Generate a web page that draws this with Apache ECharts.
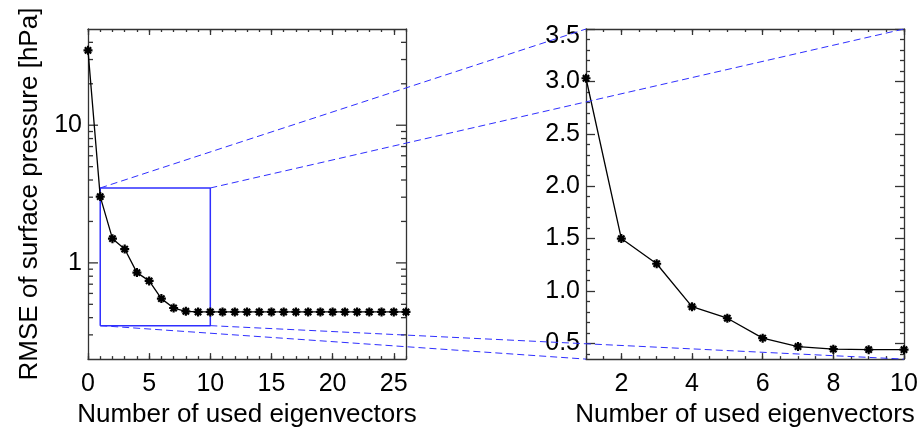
<!DOCTYPE html>
<html>
<head>
<meta charset="utf-8">
<script src="https://cdn.jsdelivr.net/npm/echarts@6/dist/echarts.min.js"></script>
<style>
  html, body { margin: 0; padding: 0; background: #fff; }
  #chart { width: 923px; height: 433px; }
</style>
</head>
<body>
<div id="chart"></div>
<script>
// Number of retained eigenvectors and the resulting surface-pressure RMSE [hPa]
const eigenCounts = [0, 1, 2, 3, 4, 5, 6, 7, 8, 9, 10, 11, 12, 13, 14, 15, 16, 17, 18, 19, 20, 21, 22, 23, 24, 25, 26];
const rmseValues  = [35.0, 3.03, 1.50, 1.26, 0.85, 0.74, 0.55, 0.47, 0.445, 0.44, 0.44, 0.44, 0.44, 0.44,
                     0.44, 0.44, 0.44, 0.44, 0.44, 0.44, 0.44, 0.44, 0.44, 0.44, 0.44, 0.44, 0.44];

// Axis ranges
const fullXRange = [0, 26];
const fullYRange = [0.2, 50];
const zoomXRange = [1, 10];
const zoomYRange = [0.35, 3.5];

// Tick values
const fullXTicks = [0, 5, 10, 15, 20, 25];
const fullYLabels = [1, 10];
const fullYMinor = [0.3, 0.4, 0.5, 0.6, 0.7, 0.8, 0.9, 2, 3, 4, 5, 6, 7, 8, 9, 20, 30, 40];
const zoomXTicks = [2, 4, 6, 8, 10];
const zoomYTicks = [0.5, 1.0, 1.5, 2.0, 2.5, 3.0, 3.5];
const zoomYMinor = [0.4, 0.6, 0.7, 0.8, 0.9, 1.1, 1.2, 1.3, 1.4, 1.6, 1.7, 1.8, 1.9, 2.1, 2.2, 2.3, 2.4,
                    2.6, 2.7, 2.8, 2.9, 3.1, 3.2, 3.3, 3.4];

const FONT = 'Liberation Sans, Arial, Helvetica, sans-serif';
const FRAME = '#333';
const BLUE = '#2f2fff';
const XTITLE = 'Number of used eigenvectors';
const YTITLE = 'RMSE of surface pressure [hPa]';
const STAR = 'path://M5,0L5,10M0,5L10,5M1.5,1.5L8.5,8.5M1.5,8.5L8.5,1.5';

const frameLine = { show: true, onZero: false, lineStyle: { color: FRAME, width: 1.3 } };
const noLine = { show: false };
const labelStyle = { color: '#000', fontFamily: FONT, fontSize: 25 };
const titleStyle = { color: '#000', fontFamily: FONT, fontSize: 26 };

function xAxisDef(grid, pos, range, ticks, len, opts) {
  return Object.assign({
    type: 'value', gridIndex: grid, position: pos, min: range[0], max: range[1],
    axisLine: noLine, splitLine: { show: false },
    axisTick: { show: true, inside: true, length: len, lineStyle: { color: FRAME, width: 1.3 },
                customValues: ticks || undefined },
    axisLabel: { show: false }
  }, opts || {});
}

const xAxes = [
  // left panel
  xAxisDef(0, 'bottom', fullXRange, fullXTicks, 6, {
    axisLine: frameLine,
    axisLabel: Object.assign({ show: true, margin: 13, customValues: fullXTicks }, labelStyle),
    name: XTITLE, nameLocation: 'middle', nameGap: 42, nameTextStyle: titleStyle
  }),
  xAxisDef(0, 'bottom', fullXRange, null, 3, { interval: 1 }),
  xAxisDef(0, 'top', fullXRange, fullXTicks, 6, { axisLine: frameLine }),
  xAxisDef(0, 'top', fullXRange, null, 3, { interval: 1 }),
  // right panel
  xAxisDef(1, 'bottom', zoomXRange, zoomXTicks, 6, {
    axisLine: frameLine,
    axisLabel: Object.assign({ show: true, margin: 13, customValues: zoomXTicks }, labelStyle),
    name: XTITLE, nameLocation: 'middle', nameGap: 42, nameTextStyle: titleStyle
  }),
  xAxisDef(1, 'bottom', zoomXRange, null, 3, { interval: 0.5 }),
  xAxisDef(1, 'top', zoomXRange, zoomXTicks, 6, { axisLine: frameLine }),
  xAxisDef(1, 'top', zoomXRange, null, 3, { interval: 0.5 })
];

const yAxes = [
  // left panel (logarithmic)
  {
    type: 'log', logBase: 10, gridIndex: 0, position: 'left', min: fullYRange[0], max: fullYRange[1],
    axisLine: frameLine, splitLine: { show: false }, axisTick: { show: false },
    axisLabel: Object.assign({
      margin: 6,
      formatter: v => (fullYLabels.indexOf(Math.round(v * 1000) / 1000) >= 0 ? String(Math.round(v)) : '')
    }, labelStyle),
    name: YTITLE, nameLocation: 'middle', nameRotate: 90, nameGap: 45, nameTextStyle: titleStyle
  },
  {
    type: 'log', logBase: 10, gridIndex: 0, position: 'right', min: fullYRange[0], max: fullYRange[1],
    axisLine: frameLine, splitLine: { show: false }, axisTick: { show: false }, axisLabel: { show: false }
  },
  // right panel (linear)
  xAxisDef(1, 'left', zoomYRange, zoomYTicks, 9, {
    axisLine: frameLine,
    axisLabel: Object.assign({
      show: true, margin: 6, customValues: zoomYTicks,
      formatter: v => (v === zoomYRange[1] ? '{top|' + v.toFixed(1) + '}' : v.toFixed(1)),
      rich: { top: { fontSize: 25, fontFamily: FONT, color: '#000', padding: [14, 0, 0, 0] } }
    }, labelStyle)
  }),
  xAxisDef(1, 'left', zoomYRange, zoomYMinor, 4),
  xAxisDef(1, 'right', zoomYRange, zoomYTicks, 9, { axisLine: frameLine }),
  xAxisDef(1, 'right', zoomYRange, zoomYMinor, 4)
];

// Ticks of the log axis, drawn on both sides of the left panel
function logTickSeries(values, len) {
  return {
    type: 'custom', xAxisIndex: 0, yAxisIndex: 0, silent: true, clip: false, z: 5,
    data: values.map(v => [fullXRange[0], v]),
    renderItem(params, api) {
      const v = api.value(1);
      const l = api.coord([fullXRange[0], v]);
      const r = api.coord([fullXRange[1], v]);
      const style = { stroke: FRAME, lineWidth: 1.3 };
      return {
        type: 'group',
        children: [
          { type: 'line', shape: { x1: l[0], y1: l[1], x2: l[0] + len, y2: l[1] }, style },
          { type: 'line', shape: { x1: r[0] - len, y1: r[1], x2: r[0], y2: r[1] }, style }
        ]
      };
    }
  };
}

const fullData = eigenCounts.map((n, i) => [n, rmseValues[i]]);
const zoomData = fullData.filter(d => d[0] >= zoomXRange[0] && d[0] <= zoomXRange[1]);
const zoomBox = [
  [zoomXRange[0], zoomYRange[0]], [zoomXRange[0], zoomYRange[1]],
  [zoomXRange[1], zoomYRange[1]], [zoomXRange[1], zoomYRange[0]],
  [zoomXRange[0], zoomYRange[0]]
];

const rmseLine = {
  type: 'line', symbol: STAR, symbolSize: 9, clip: false, z: 10,
  lineStyle: { color: '#000', width: 1.3 },
  itemStyle: { color: 'rgba(0,0,0,0)', borderColor: '#000', borderWidth: 2.2 },
  emphasis: { disabled: true }
};

const chart = echarts.init(document.getElementById('chart'), null, { renderer: 'canvas' });
chart.setOption({
  animation: false,
  backgroundColor: '#fff',
  grid: [
    { left: 88, top: 29, width: 318, height: 335 },
    { left: 586, top: 29, width: 318, height: 335 }
  ],
  xAxis: xAxes,
  yAxis: yAxes,
  series: [
    Object.assign({ name: 'RMSE', xAxisIndex: 0, yAxisIndex: 0, data: fullData }, rmseLine),
    {
      name: 'zoom box', type: 'line', xAxisIndex: 0, yAxisIndex: 0, data: zoomBox,
      symbol: 'none', clip: false, z: 8, lineStyle: { color: BLUE, width: 1.5 }, emphasis: { disabled: true }
    },
    logTickSeries(fullYMinor, 5),
    logTickSeries(fullYLabels, 10),
    Object.assign({ name: 'RMSE zoom', xAxisIndex: 4, yAxisIndex: 2, data: zoomData }, rmseLine)
  ]
});

// Dashed connectors from the zoom box corners to the matching corners of the right panel
const corners = [
  [zoomXRange[0], zoomYRange[1]], [zoomXRange[1], zoomYRange[1]],
  [zoomXRange[0], zoomYRange[0]], [zoomXRange[1], zoomYRange[0]]
];
const connectors = corners.map(c => {
  const a = chart.convertToPixel({ seriesIndex: 0 }, c);
  const b = chart.convertToPixel({ seriesIndex: 4 }, c);
  return {
    type: 'line', z: 100, silent: true,
    shape: { x1: a[0], y1: a[1], x2: b[0], y2: b[1] },
    style: { stroke: BLUE, lineWidth: 1, lineDash: [7, 4] }
  };
});
chart.setOption({ graphic: connectors });
</script>
</body>
</html>
